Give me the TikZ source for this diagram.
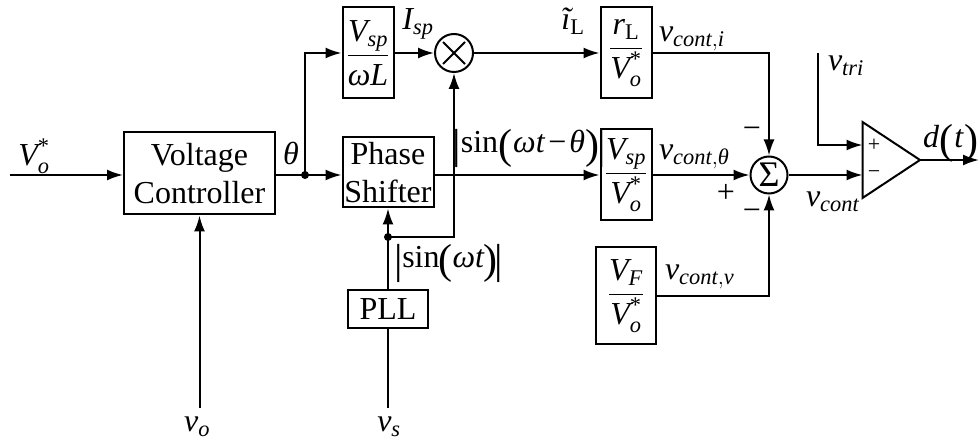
\documentclass[tikz,border=0pt]{standalone}
\usepackage{fix-cm}
\usepackage{amsmath}
\usepackage{fontspec}
\setmainfont{Liberation Serif}
\usetikzlibrary{arrows.meta}
\newcommand\iv[1]{\text{\itshape #1}}
\newcommand\bgl[1]{\raisebox{-5.5pt}{\fontsize{42}{42}\selectfont #1}}
\begin{document}
\begin{tikzpicture}[x=1pt,y=-1pt,line width=2pt,
  >={Latex[length=16pt,width=11pt]},
  every node/.style={font=\fontsize{32}{38}\selectfont},
  blk/.style={draw,line width=2pt,inner sep=0pt,align=center},
  gain/.style={blk,minimum width=51pt,minimum height=91pt},
  sumc/.style={circle,draw,line width=2pt,inner sep=0pt,minimum size=38pt},
  lbl/.style={inner sep=0pt},
  sgn/.style={inner sep=0pt},
  smallsgn/.style={inner sep=0pt,font=\fontsize{22}{24}\selectfont}]
\useasboundingbox (0,0) rectangle (980,443);

% blocks
\node[blk,minimum width=151pt,minimum height=82pt] (VC) at (199.5,173.5) {Voltage\\Controller};
\node[blk,minimum width=91pt,minimum height=70pt] (PS) at (388,172.5) {Phase\\Shifter};
\node[blk,minimum width=80pt,minimum height=38pt] (PLL) at (388,309) {PLL};
\node[gain] (G1) at (368,53) {$\dfrac{\iv{V}_{\iv{sp}}}{\iv{ωL}}$};
\node[gain] (G2) at (626,53) {$\dfrac{\iv{r}_{\text{L}}}{\iv{V}_{\iv{o}}^{\text{*}}}$};
\node[gain] (G3) at (626,175) {$\dfrac{\iv{V}_{\iv{sp}}}{\iv{V}_{\iv{o}}^{\text{*}}}$};
\node[blk,minimum width=60pt,minimum height=97pt] (G4) at (626,296) {$\dfrac{\iv{V}_{\iv{F}}}{\iv{V}_{\iv{o}}^{\text{*}}}$};
\node[sumc] (MUL) at (454,53) {};
\draw ([shift={(-11,-11)}]MUL.center) -- ([shift={(11,11)}]MUL.center);
\draw ([shift={(-11,11)}]MUL.center) -- ([shift={(11,-11)}]MUL.center);
\node[sumc,minimum size=37pt,font=\fontsize{36}{38}\selectfont] (SUM) at (769,175) {Σ};

% comparator
\coordinate (ctl) at (862.5,122);
\coordinate (cbl) at (862.5,198);
\coordinate (capex) at (920,160);
\draw[line join=miter] (ctl) -- (capex) -- (cbl) -- cycle;
\coordinate (cp) at (862.5,145);
\coordinate (cm) at (862.5,175);
\node[smallsgn] at (874,145) {+};
\node[smallsgn] at (874,175) {−};

% free ends
\coordinate (vin) at (10,175);
\coordinate (vo) at (199.5,408);
\coordinate (vs) at (388,408);
\coordinate (vtri) at (817.5,53);
\coordinate (dout) at (979,160);
\coordinate (J1) at (305,175);
\coordinate (J2) at (388,237);

% connectors
\draw[->] (vin) -- (VC.west |- vin);
\draw (VC.east |- J1) -- (J1);
\draw[->] (J1) -- (PS.west |- J1);
\draw[->] (J1) |- (G1.west);
\draw[->] (G1.east) -- (MUL.west);
\draw[->] (MUL.east) -- (G2.west);
\draw[->] (PS.east |- J1) -- (G3.west);
\draw[->] (G2.east) -| (SUM.north);
\draw[->] (G3.east) -- (SUM.west);
\draw[->] (G4.east) -| (SUM.south);
\draw[->] (SUM.east) -- (cm);
\draw[->] (vtri) |- (cp);
\draw[->] (capex) -- (dout);
\draw[->] (vo) -- (VC.south);
\draw (vs) -- (PLL.south);
\draw[->] (PLL.north) -- (PS.south);
\draw[->] (J2) -| (MUL.south);
\fill (J1) circle (4pt);
\fill (J2) circle (4pt);

% labels
\node[lbl] at (34,156) {$\iv{V}_{\iv{o}}^{\text{*}}$};
\node[lbl] at (291,153) {\itshape θ};
\node[lbl] at (418,24) {$\iv{I}_{\iv{sp}}$};
\node[lbl] at (573,21) {$\iv{ĩ}_{\text{L}}$};
\node[lbl,anchor=west] at (658,39) {$\iv{v}_{\iv{cont},\iv{i}}$};
\node[lbl] at (529,148) {\bgl{|}sin\bgl{(}\kern1pt\textit{ωt}\kern3pt−\kern3pt\textit{θ}\bgl{)}\kern-2pt\bgl{|}};
\node[lbl,anchor=west] at (658,157) {$\iv{v}_{\iv{cont},\iv{θ}}$};
\node[lbl,anchor=west] at (805,202) {$\iv{v}_{\iv{cont}}$};
\node[lbl,anchor=west] at (827,66) {$\iv{v}_{\iv{tri}}$};
\node[lbl] at (951,143) {\textit{d}\bgl{(}\kern1pt\textit{t}\kern1pt\bgl{)}};
\node[lbl] at (449,263) {\bgl{|}\kern-1pt sin\kern-1pt\bgl{(}\textit{ωt}\kern-1pt\bgl{)}\kern-3pt\bgl{|}};
\node[lbl,anchor=west] at (664,277) {$\iv{v}_{\iv{cont},\iv{v}}$};
\node[lbl] at (197,427) {$\iv{v}_{\iv{o}}$};
\node[lbl] at (389,427) {$\iv{v}_{\iv{s}}$};
\node[sgn] at (726,193) {+};
\node[sgn] at (752,133) {−};
\node[sgn] at (752,215) {−};
\end{tikzpicture}
\end{document}
